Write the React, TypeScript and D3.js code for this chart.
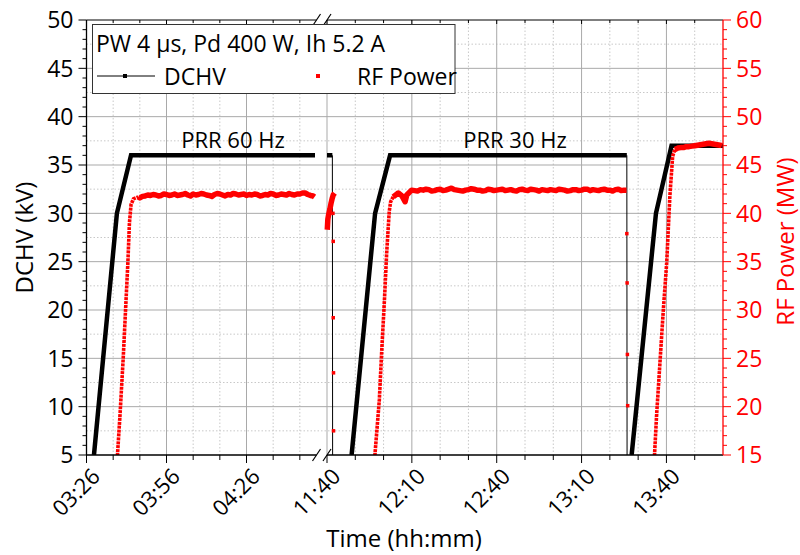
import React from "react";
import * as d3 from "d3";

// time values are minutes after midnight
const toMin = (s: string) => {
  const [h, m] = s.split(":").map(Number);
  return h * 60 + m;
};

const tickLabelsA = ["03:26", "03:56", "04:26"];
const tickLabelsB = ["11:40", "12:10", "12:40", "13:10", "13:40"];

// DCHV (kV): thick runs are dense line+symbol data, drops are sparse
const dchvRun1: [number, number][] = [[208.8, 5], [217.4, 30], [222.7, 36], [291.7, 36]];
const dchvRun2: [number, number][] = [[700.0, 36], [701.9, 36]];
const dchvDrop2: [number, number][] = [[701.9, 36], [702.0, 0]];
const dchvRun3: [number, number][] = [[708.7, 5], [717.0, 30], [722.3, 36], [806.0, 36]];
const dchvDrop3: [number, number][] = [[806.0, 36], [806.1, 0]];
const dchvRun4: [number, number][] = [[807.7, 5], [816.3, 30], [821.8, 37], [840, 37]];

// RF Power (MW)
const rfRamp1: [number, number][] = [
  [217.5, 14.5], [218.6, 19.3], [219.8, 25.2], [220.7, 30.3], [221.5, 34.8],
  [222.1, 39.0], [222.7, 40.9], [223.6, 41.5], [225.4, 41.7],
];
const rfFlat1: [number, number][] = [
  [225.4, 41.7], [226, 41.6], [227, 41.75], [228, 41.8], [229, 41.9], [230, 41.85], [231, 41.95],
  [232, 41.9], [233, 41.8], [234, 41.85], [235, 42.0], [236, 41.95], [237, 41.85],
  [238, 41.9], [239, 42.0], [240, 41.85], [241, 41.9], [242, 41.95], [243, 42.05], [244, 41.9],
  [245, 41.8], [246, 42.0], [247, 41.9], [248, 41.95], [249, 42.05], [250, 42.0],
  [251, 41.9], [252, 41.85], [253, 41.75], [254, 41.95], [255, 42.05], [256, 42.0], [257, 41.9],
  [258, 41.8], [259, 41.95], [260, 41.9], [261, 42.05], [262, 42.0], [263, 41.9], [264, 41.95],
  [265, 42.0], [266, 41.85], [267, 41.95], [268, 41.9], [269, 42.0], [270, 41.95], [271, 41.8],
  [272, 41.85], [273, 41.95], [274, 41.9], [275, 42.05], [276, 42.0], [277, 41.85], [278, 41.9],
  [279, 42.0], [280, 41.95], [281, 41.9], [282, 42.05], [283, 41.95], [284, 41.9], [285, 42.0],
  [286, 42.0], [287, 42.1], [288, 42.1], [289, 41.95], [290, 41.85], [291, 41.8], [291.5, 41.7],
];
const rfCluster: [number, number][] = [
  [700.1, 38.3], [700.3, 39.4], [700.6, 39.9], [701.0, 40.4], [701.4, 41.0],
  [701.8, 41.5], [702.2, 41.9], [702.7, 42.1],
];
const rfDots2: [number, number][] = [[702.1, 40.0], [702.2, 37.1], [702.2, 29.2], [702.3, 23.5], [702.3, 17.5]];
const rfRamp2: [number, number][] = [
  [716.8, 14.5], [718.5, 20.7], [719.3, 25.5], [720.3, 31.0], [721.1, 35.9],
  [722.0, 40.2], [722.5, 41.2], [723.4, 41.7],
];
const rfFlat2: [number, number][] = [
  [723.4, 41.7], [725.2, 42.1], [726.5, 41.8], [727.6, 41.2], [728.2, 41.9], [729.9, 42.4],
  [731, 42.35], [732, 42.3], [733, 42.45], [734, 42.4], [735, 42.5], [736, 42.45], [737, 42.3],
  [738, 42.35], [739, 42.45], [740, 42.5], [741, 42.35], [742, 42.4], [743, 42.5], [744, 42.6],
  [745, 42.45], [746, 42.4], [747, 42.35], [748, 42.3], [749, 42.4], [750, 42.45], [751, 42.55],
  [752, 42.5], [753, 42.4], [754, 42.4], [755, 42.3], [756, 42.35], [757, 42.5], [758, 42.45],
  [759, 42.35], [760, 42.4], [761, 42.45], [762, 42.5], [763, 42.35], [764, 42.4], [765, 42.45],
  [766, 42.35], [767, 42.3], [768, 42.45], [769, 42.5], [770, 42.4], [771, 42.35], [772, 42.5],
  [773, 42.45], [774, 42.4], [775, 42.3], [776, 42.45], [777, 42.4], [778, 42.35], [779, 42.45],
  [780, 42.4], [781, 42.35], [782, 42.5], [783, 42.45], [784, 42.4], [785, 42.3], [786, 42.35],
  [787, 42.45], [788, 42.45], [789, 42.35], [790, 42.4], [791, 42.5], [792, 42.5], [793, 42.35],
  [794, 42.45], [795, 42.4], [796, 42.35], [797, 42.45], [798, 42.5], [799, 42.4], [800, 42.4],
  [801, 42.3], [802, 42.45], [803, 42.5], [804, 42.35], [805, 42.4], [805.9, 42.4],
];
const rfDots3: [number, number][] = [[806.0, 37.9], [806.1, 32.8], [806.2, 25.4], [806.3, 20.1]];
const rfRamp3: [number, number][] = [
  [815.7, 14.5], [816.5, 19.0], [817.7, 24.5], [818.9, 30.0], [820.1, 34.9],
  [821.2, 41.7], [822.2, 45.9], [823.0, 46.6],
];
const rfFlat3: [number, number][] = [
  [823.0, 46.6], [824, 46.75], [825, 46.8], [826, 46.8], [827, 46.9], [828, 46.9], [829, 46.95],
  [830, 47.0], [831, 47.05], [832, 47.1], [833, 47.15], [834, 47.2], [835, 47.25], [836, 47.2],
  [837, 47.15], [838, 47.1], [839, 47.05], [839.6, 47.0],
];

const W = 800;
const H = 555;
const left = 86.5;
const right = 723;
const top = 20;
const bottom = 455;
const breakA = 316.5;
const breakB = 327;
const font = "'Open Sans', 'Noto Sans', sans-serif";
const red = "#ff0000";

const App = () => {
  const xA = d3.scaleLinear().domain([206, 292.25]).range([left, breakA]);
  const xB = d3.scaleLinear().domain([700, 840]).range([breakB, right]);
  const x = (t: number) => (t < 500 ? xA(t) : xB(t));
  const yL = d3.scaleLinear().domain([5, 50]).range([bottom, top]);
  const yR = d3.scaleLinear().domain([15, 60]).range([bottom, top]);

  const lineL = d3.line<[number, number]>().x(d => x(d[0])).y(d => yL(d[1]));
  const lineR = d3.line<[number, number]>().x(d => x(d[0])).y(d => yR(d[1]));

  const majorX = [...tickLabelsA, ...tickLabelsB].map(toMin);
  const minorX = [...d3.range(216, 292, 10), ...d3.range(710, 840, 10)].filter(t => !majorX.includes(t));
  const majorY = d3.range(5, 51, 5);
  const minorY = d3.range(5, 51, 1).filter(v => v % 5 !== 0);
  const halfY = d3.range(7.5, 50, 5);
  const majorR = d3.range(15, 61, 5);
  const minorR = d3.range(15, 61, 1).filter(v => v % 5 !== 0);

  const slash = (cx: number, cy: number) => (
    <line x1={cx - 4} y1={cy + 6} x2={cx + 4} y2={cy - 6} stroke="#000" strokeWidth={1.2} />
  );

  return (
    <svg width={W} height={H} style={{ position: "absolute", left: 0, top: 0, background: "#fff" }}>
      <defs>
        <clipPath id="plot">
          <rect x={left} y={top} width={right - left} height={bottom - top} />
        </clipPath>
      </defs>

      {/* grid */}
      <g>
        {halfY.map(v => (
          <line key={"hy" + v} x1={left} x2={right} y1={yL(v)} y2={yL(v)} stroke="#c8c8c8" strokeDasharray="1.5 2" />
        ))}
        {minorX.map(t => (
          <line key={"mx" + t} x1={x(t)} x2={x(t)} y1={top} y2={bottom} stroke="#c8c8c8" strokeDasharray="1.5 2" />
        ))}
        {majorY.filter(v => v > 5 && v < 50).map(v => (
          <line key={"gy" + v} x1={left} x2={right} y1={yL(v)} y2={yL(v)} stroke="#a9a9a9" />
        ))}
        {majorX.filter(t => t !== 206).map(t => (
          <line key={"gx" + t} x1={x(t)} x2={x(t)} y1={top} y2={bottom} stroke="#a9a9a9" />
        ))}
      </g>

      {/* data */}
      <g clipPath="url(#plot)">
        {[dchvDrop2, dchvDrop3].map((d, i) => (
          <path key={"dd" + i} d={lineL(d) || ""} fill="none" stroke="#000" strokeWidth={1} />
        ))}
        {[dchvRun1, dchvRun2, dchvRun3, dchvRun4].map((d, i) => (
          <path key={"dr" + i} d={lineL(d) || ""} fill="none" stroke="#000" strokeWidth={4.5} />
        ))}
        {[rfRamp1, rfRamp2, rfRamp3].map((d, i) => (
          <path key={"rr" + i} d={lineR(d) || ""} fill="none" stroke={red} strokeWidth={3.6} strokeDasharray="3 0.9" />
        ))}
        {[rfFlat1, rfCluster, rfFlat2, rfFlat3].map((d, i) => (
          <path key={"rf" + i} d={lineR(d) || ""} fill="none" stroke={red} strokeWidth={5.5} strokeLinejoin="round" />
        ))}
        {[...rfDots2, ...rfDots3].map((d, i) => (
          <rect key={"rd" + i} x={x(d[0]) - 1.75} y={yR(d[1]) - 1.75} width={3.5} height={3.5} fill={red} />
        ))}
      </g>

      {/* frame / axes */}
      <g>
        <line x1={left} x2={breakA} y1={top} y2={top} stroke="#000" />
        <line x1={breakB} x2={right} y1={top} y2={top} stroke="#000" />
        <line x1={left} x2={breakA} y1={bottom} y2={bottom} stroke="#000" strokeWidth={1.3} />
        <line x1={breakB} x2={right} y1={bottom} y2={bottom} stroke="#000" strokeWidth={1.3} />
        <line x1={left} x2={left} y1={top} y2={bottom} stroke="#000" strokeWidth={1.3} />
        <line x1={right} x2={right} y1={top} y2={bottom} stroke={red} strokeWidth={1.3} />
        {slash(breakA, top)}
        {slash(breakB, top)}
        {slash(breakA, bottom)}
        {slash(breakB, bottom)}

        {/* x ticks */}
        {majorX.map(t => (
          <g key={"xt" + t}>
            <line x1={x(t)} x2={x(t)} y1={bottom} y2={bottom + 8} stroke="#000" />
            <line x1={x(t)} x2={x(t)} y1={top} y2={top + 4} stroke="#000" />
          </g>
        ))}
        {minorX.map(t => (
          <g key={"xm" + t}>
            <line x1={x(t)} x2={x(t)} y1={bottom} y2={bottom + 5} stroke="#000" />
            <line x1={x(t)} x2={x(t)} y1={top} y2={top + 3} stroke="#000" />
          </g>
        ))}
        {[...tickLabelsA, ...tickLabelsB].map(s => (
          <text
            key={"xl" + s}
            transform={`translate(${x(toMin(s)) + 4},${bottom + 12}) rotate(-45)`}
            textAnchor="end"
            dy="0.7em"
            fontFamily={font}
            fontSize={22}
            fill="#000"
          >
            {s}
          </text>
        ))}

        {/* left axis */}
        {majorY.map(v => (
          <g key={"yl" + v}>
            <line x1={left - 8} x2={left} y1={yL(v)} y2={yL(v)} stroke="#000" />
            <text x={left - 13} y={yL(v)} dy="0.36em" textAnchor="end" fontFamily={font} fontSize={23} fill="#000">
              {v}
            </text>
          </g>
        ))}
        {minorY.map(v => (
          <line key={"ym" + v} x1={left - 4} x2={left} y1={yL(v)} y2={yL(v)} stroke="#000" />
        ))}

        {/* right axis */}
        {majorR.map(v => (
          <g key={"yr" + v}>
            <line x1={right} x2={right + 8} y1={yR(v)} y2={yR(v)} stroke={red} />
            <text x={right + 13} y={yR(v)} dy="0.36em" fontFamily={font} fontSize={23} fill={red}>
              {v}
            </text>
          </g>
        ))}
        {minorR.map(v => (
          <line key={"rm" + v} x1={right} x2={right + 4} y1={yR(v)} y2={yR(v)} stroke={red} />
        ))}
      </g>

      {/* titles */}
      <text transform={`translate(33,${(top + bottom) / 2}) rotate(-90)`} textAnchor="middle" fontFamily={font} fontSize={24} fill="#000">
        DCHV (kV)
      </text>
      <text transform={`translate(794,${(top + bottom) / 2 + 4}) rotate(-90)`} textAnchor="middle" fontFamily={font} fontSize={24} fill={red}>
        RF Power (MW)
      </text>
      <text x={404} y={547} textAnchor="middle" fontFamily={font} fontSize={24} fill="#000">
        Time (hh:mm)
      </text>
      <text x={233} y={148} textAnchor="middle" fontFamily={font} fontSize={22} fill="#000">
        PRR 60 Hz
      </text>
      <text x={515} y={148} textAnchor="middle" fontFamily={font} fontSize={22} fill="#000">
        PRR 30 Hz
      </text>

      {/* legend */}
      <g>
        <rect x={92.5} y={24.5} width={362.5} height={69} fill="#fff" stroke="#333" />
        <text x={96} y={52} fontFamily={font} fontSize={23} fill="#000">
          PW 4 μs, Pd 400 W, Ih 5.2 A
        </text>
        <line x1={97} x2={155} y1={76} y2={76} stroke="#000" />
        <rect x={123} y={74} width={4} height={4} fill="#000" />
        <text x={164} y={85} fontFamily={font} fontSize={23} fill="#000">
          DCHV
        </text>
        <rect x={316} y={74} width={4} height={4} fill={red} />
        <text x={357} y={85} fontFamily={font} fontSize={23} fill="#000">
          RF Power
        </text>
      </g>
    </svg>
  );
};

export default App;
